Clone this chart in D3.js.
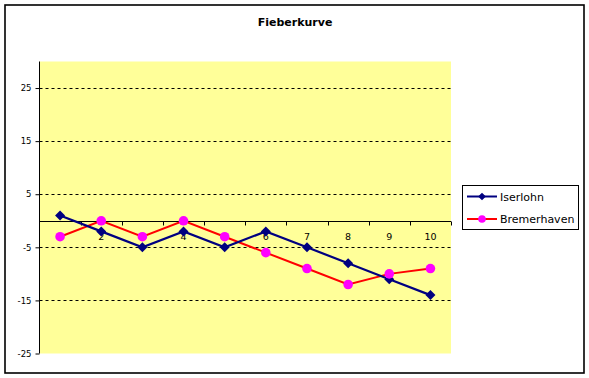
<!DOCTYPE html>
<html>
<head>
<meta charset="utf-8">
<script src="https://cdn.jsdelivr.net/npm/d3@7"></script>
<style>
  body { margin: 0; background: #fff; }
  text { font-family: "DejaVu Sans", sans-serif; }
</style>
</head>
<body>
<div id="chart"></div>
<script>
// chart data
const categories = ["1", "2", "3", "4", "5", "6", "7", "8", "9", "10"];
const iserlohn = [1, -2, -5, -2, -5, -2, -5, -8, -11, -14];
const bremerhaven = [-3, 0, -3, 0, -3, -6, -9, -12, -10, -9];
const yTicks = [-25, -15, -5, 5, 15, 25];
const seriesNames = ["Iserlohn", "Bremerhaven"];

const width = 589, height = 378;
const plot = { left: 39.5, right: 451, top: 61.5, bottom: 353.5 };

const svg = d3.select("#chart").append("svg")
    .attr("width", width).attr("height", height);

// outer frame
svg.append("rect")
   .attr("x", 5).attr("y", 5)
   .attr("width", 579).attr("height", 368)
   .attr("fill", "#fff").attr("stroke", "#000").attr("stroke-width", 1.6);

svg.append("text")
   .attr("x", 295).attr("y", 26)
   .attr("text-anchor", "middle")
   .style("font-size", "11px").style("font-weight", "bold")
   .text("Fieberkurve");

const x = d3.scaleBand().domain(categories).range([plot.left, plot.right]);
const y = d3.scaleLinear().domain([-25, 30]).range([plot.bottom, plot.top]);

// plot area background
svg.append("rect")
   .attr("x", plot.left).attr("y", plot.top)
   .attr("width", plot.right - plot.left).attr("height", plot.bottom - plot.top)
   .attr("fill", "#ffff99");

// dashed gridlines
svg.append("g")
   .selectAll("line")
   .data(yTicks.filter(d => d > -25))
   .enter().append("line")
   .attr("x1", plot.left).attr("x2", plot.right)
   .attr("y1", d => Math.round(y(d)) + 0.5).attr("y2", d => Math.round(y(d)) + 0.5)
   .attr("stroke", "#000").attr("stroke-width", 1)
   .attr("stroke-dasharray", "3,3");

// y axis
const yAxis = svg.append("g")
   .attr("transform", `translate(${plot.left},0)`)
   .call(d3.axisLeft(y).tickValues(yTicks).tickFormat(d => String(d)).tickSize(4).tickPadding(4));
yAxis.select(".domain").attr("d", `M-0,${plot.top}V${plot.bottom}`);
yAxis.selectAll("text").style("font-size", "8.5px").attr("fill", "#000");

// x axis along zero line
const y0 = Math.round(y(0)) + 0.5;
const xAxisG = svg.append("g");
xAxisG.append("line")
   .attr("x1", plot.left).attr("x2", plot.right)
   .attr("y1", y0).attr("y2", y0)
   .attr("stroke", "#000");
xAxisG.selectAll("line.tick")
   .data(categories)
   .enter().append("line")
   .attr("class", "tick")
   .attr("x1", d => Math.round(x(d) + x.bandwidth()) + 0.5)
   .attr("x2", d => Math.round(x(d) + x.bandwidth()) + 0.5)
   .attr("y1", y0).attr("y2", y0 + 4)
   .attr("stroke", "#000");
xAxisG.selectAll("text")
   .data(categories)
   .enter().append("text")
   .attr("x", d => x(d) + x.bandwidth() / 2)
   .attr("y", y0 + 18)
   .attr("text-anchor", "middle")
   .style("font-size", "9.5px")
   .text(d => d);

const cx = (d, i) => x(categories[i]) + x.bandwidth() / 2;
const line = d3.line().x(cx).y(d => y(d));

// Bremerhaven
svg.append("path")
   .datum(bremerhaven)
   .attr("d", line)
   .attr("fill", "none").attr("stroke", "#ff0000").attr("stroke-width", 2);

// Iserlohn
svg.append("path")
   .datum(iserlohn)
   .attr("d", line)
   .attr("fill", "none").attr("stroke", "#000080").attr("stroke-width", 2.2);

svg.append("g").selectAll("path")
   .data(iserlohn)
   .enter().append("path")
   .attr("d", d3.symbol(d3.symbolSquare, 50))
   .attr("transform", (d, i) => `translate(${cx(d, i)},${y(d)}) rotate(45)`)
   .attr("fill", "#000080");

svg.append("g").selectAll("circle")
   .data(bremerhaven)
   .enter().append("circle")
   .attr("cx", cx).attr("cy", d => y(d))
   .attr("r", 4.8)
   .attr("fill", "#ff00ff");

// legend
const legend = svg.append("g");
legend.append("rect")
   .attr("x", 462.5).attr("y", 185.5)
   .attr("width", 116).attr("height", 44)
   .attr("fill", "#fff").attr("stroke", "#000");

const legendColors = ["#000080", "#ff0000"];
seriesNames.forEach(function(name, i) {
    const ly = 196.5 + i * 22.5;
    legend.append("line")
       .attr("x1", 467).attr("x2", 497)
       .attr("y1", ly).attr("y2", ly)
       .attr("stroke", legendColors[i]).attr("stroke-width", 2);
    if (i === 0) {
        legend.append("path")
           .attr("d", d3.symbol(d3.symbolSquare, 30))
           .attr("transform", `translate(482,${ly}) rotate(45)`)
           .attr("fill", "#000080");
    } else {
        legend.append("circle")
           .attr("cx", 482).attr("cy", ly).attr("r", 3.8)
           .attr("fill", "#ff00ff");
    }
    legend.append("text")
       .attr("x", 500).attr("y", ly + 4)
       .style("font-size", "11px")
       .text(name);
});
</script>
</body>
</html>
